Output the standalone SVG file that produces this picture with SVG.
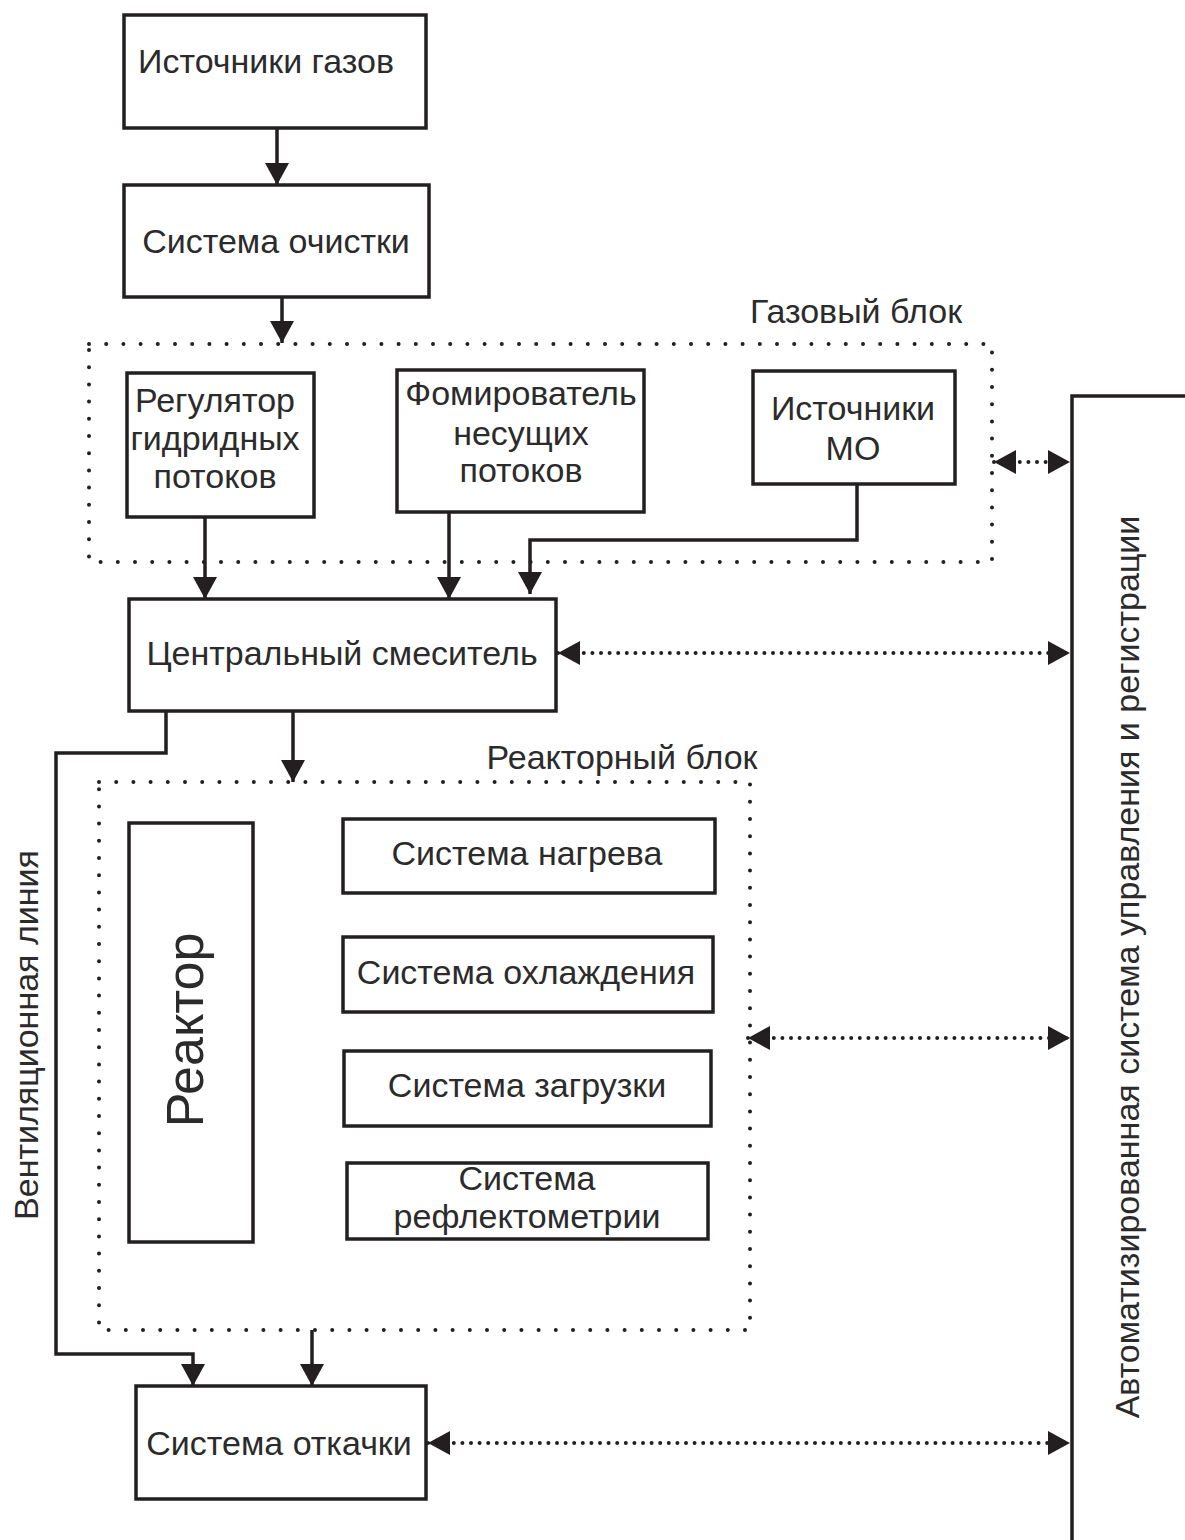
<svg xmlns="http://www.w3.org/2000/svg" width="1185" height="1540" viewBox="0 0 1185 1540">
<style>
.box{fill:#fff;stroke:#231f20;stroke-width:3.5}
.blk{fill:none;stroke:#231f20;stroke-width:4;stroke-linecap:round;stroke-dasharray:0 17.2}
.ln{fill:none;stroke:#231f20;stroke-width:3.5}
.dl{fill:none;stroke:#231f20;stroke-width:4;stroke-linecap:round;stroke-dasharray:0 8.6}
text{font-family:"Liberation Sans",Arial,sans-serif;font-size:34px;fill:#2b2b2b;text-anchor:middle}
</style>
<defs>
<marker id="ah" markerUnits="userSpaceOnUse" markerWidth="24" markerHeight="26" refX="22" refY="13" orient="auto-start-reverse" viewBox="0 0 24 26">
<path d="M0,1 L22,13 L0,25 z" fill="#231f20"/>
</marker>
</defs>
<g id="blocks">
<rect class="blk" x="89" y="344" width="903" height="218"/>
<text x="856" y="323">Газовый блок</text>
<rect class="blk" x="99" y="782" width="651" height="548"/>
<text x="622" y="769">Реакторный блок</text>
</g>
<g id="n1"><rect class="box" x="124" y="15" width="302" height="113"/><text x="266" y="73">Источники газов</text></g>
<g id="n2"><rect class="box" x="124" y="185" width="305" height="112"/><text x="276" y="253">Система очистки</text></g>
<g id="n3"><rect class="box" x="127" y="373" width="187" height="144"/><text x="215" y="412">Регулятор</text><text x="215" y="450">гидридных</text><text x="215" y="488">потоков</text></g>
<g id="n4"><rect class="box" x="397" y="370" width="247" height="142"/><text x="521" y="405">Фомирователь</text><text x="521" y="445">несущих</text><text x="521" y="482">потоков</text></g>
<g id="n5"><rect class="box" x="753" y="371" width="202" height="113"/><text x="853" y="420">Источники</text><text x="853" y="460">МО</text></g>
<g id="n6"><rect class="box" x="129" y="599" width="427" height="112"/><text x="342" y="665">Центральный смеситель</text></g>
<g id="n7"><rect class="box" x="129" y="823" width="124" height="419"/><text transform="translate(203,1030) rotate(-90)" style="font-size:52px">Реактор</text></g>
<g id="n8"><rect class="box" x="343" y="819" width="372" height="74"/><text x="527" y="865">Система нагрева</text></g>
<g id="n9"><rect class="box" x="343" y="937" width="370" height="75"/><text x="526" y="984">Система охлаждения</text></g>
<g id="n10"><rect class="box" x="344" y="1051" width="367" height="75"/><text x="527" y="1097">Система загрузки</text></g>
<g id="n11"><rect class="box" x="347" y="1163" width="361" height="76"/><text x="527" y="1190">Система</text><text x="527" y="1228">рефлектометрии</text></g>
<g id="n12"><rect class="box" x="136" y="1386" width="290" height="113"/><text x="279" y="1455">Система откачки</text></g>
<g id="n13"><path class="ln" d="M1187,396 H1072 V1542"/><text transform="translate(1139,967) rotate(-90)">Автоматизированная система управления и регистрации</text></g>
<g id="vent-label"><text transform="translate(38,1035) rotate(-90)">Вентиляционная линия</text></g>
<g id="connectors">
<path class="ln" d="M277,128 V185" marker-end="url(#ah)"/>
<path class="ln" d="M282,297 V343" marker-end="url(#ah)"/>
<path class="ln" d="M205,517 V599" marker-end="url(#ah)"/>
<path class="ln" d="M449,512 V599" marker-end="url(#ah)"/>
<path class="ln" d="M857,484 V540 H530 V594" marker-end="url(#ah)"/>
<path class="ln" d="M293,711 V782" marker-end="url(#ah)"/>
<path class="ln" d="M166,711 V753 H56 V1354 H193 V1386" marker-end="url(#ah)"/>
<path class="ln" d="M312,1330 V1386" marker-end="url(#ah)"/>
<path class="dl" d="M994,462 H1070" marker-start="url(#ah)" marker-end="url(#ah)"/>
<path class="dl" d="M558,653 H1070" marker-start="url(#ah)" marker-end="url(#ah)"/>
<path class="dl" d="M748,1038 H1070" marker-start="url(#ah)" marker-end="url(#ah)"/>
<path class="dl" d="M428,1443 H1070" marker-start="url(#ah)" marker-end="url(#ah)"/>
</g>
</svg>
